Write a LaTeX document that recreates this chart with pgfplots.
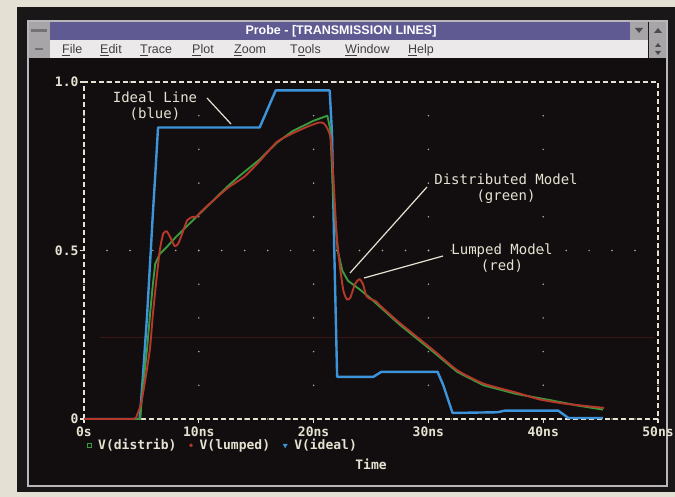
\documentclass[border=0pt]{standalone}
\usepackage{pgfplots}
\pgfplotsset{compat=1.18}
\usepackage{fontspec}
\setmonofont{DejaVu Sans Mono}
\setsansfont{Liberation Sans}
\definecolor{paper}{HTML}{E4E0D4}
\definecolor{frameblk}{HTML}{1A1718}
\definecolor{plotbg}{HTML}{120E0F}
\definecolor{titlebar}{HTML}{5F5A92}
\definecolor{menubg}{HTML}{ECE9EA}
\definecolor{btn}{HTML}{A7A5A7}
\definecolor{cream}{HTML}{E6E2D2}
\definecolor{dotc}{HTML}{B0AC9E}
\definecolor{faintred}{HTML}{3A1616}
\definecolor{ideal}{HTML}{3D94DA}
\definecolor{distrib}{HTML}{3A9A3E}
\definecolor{lumped}{HTML}{B5382A}
\newcommand\tl[1]{\texttt{\bfseries #1}}
\begin{document}
\begin{tikzpicture}
\useasboundingbox (0,0) rectangle (675pt,-497pt);
\begin{scope}[x=1pt,y=-1pt]
\fill[paper] (0,0) rectangle (675,497);
\fill[frameblk] (17,7) rectangle (675,492);
\fill[plotbg] (28,58) rectangle (667,486);
% faint screen line
\draw[faintred, line width=1pt] (100,337) -- (655,337);
% title bar
\fill[titlebar] (50,21) rectangle (630,40);
\fill[btn] (28,21) rectangle (50,40);
\fill[black!55] (31,29) rectangle (47,32);
\fill[btn] (630,21) rectangle (648,40);
\fill[btn] (649,21) rectangle (667,40);
\fill[black!70] (635,28) -- (643,28) -- (639,33) -- cycle;
\fill[black!70] (654,33) -- (662,33) -- (658,28) -- cycle;
\node[text=white, font=\sffamily\bfseries\fontsize{12.5}{14}\selectfont] at (341,31) {Probe - [TRANSMISSION LINES]};
% menu bar
\fill[menubg] (50,40) rectangle (648,58);
\fill[btn] (28,40) rectangle (50,58);
\fill[black!55] (35,48) rectangle (43,50);
\fill[btn] (649,40) rectangle (667,58);
\fill[black!70] (655,47) -- (661,47) -- (658,43) -- cycle;
\fill[black!70] (655,51) -- (661,51) -- (658,55) -- cycle;
\begin{scope}[every node/.style={anchor=base west, inner sep=0pt, text=black!75, font=\sffamily\fontsize{12.5}{14}\selectfont}]
\node at (62,54) {\underline{F}ile};
\node at (100,54) {\underline{E}dit};
\node at (140,54) {\underline{T}race};
\node at (192,54) {\underline{P}lot};
\node at (234,54) {\underline{Z}oom};
\node at (290,54) {T\underline{o}ols};
\node at (345,54) {\underline{W}indow};
\node at (408,54) {\underline{H}elp};
\end{scope}
\draw[btn!80!white, line width=1.2pt] (28,21) rectangle (667,486);
\end{scope}

\begin{axis}[
  at={(84pt,-419pt)}, anchor=south west,
  scale only axis, width=574pt, height=337pt,
  xmin=0, xmax=50, ymin=0, ymax=1,
  axis line style={cream, line width=1.3pt, dash pattern=on 5pt off 3pt},
  xtick={0,10,...,50},
  xticklabels={\tl{0s},\tl{10ns},\tl{20ns},\tl{30ns},\tl{40ns},\tl{50ns}},
  ytick={0,0.5,1},
  yticklabels={\tl{0},\tl{0.5},\tl{1.0}},
  tick style={cream, line width=1.3pt, solid},
  tick align=outside, major tick length=4pt,
  xtick pos=bottom, ytick pos=left,
  ticklabel style={text=cream, font=\fontsize{13}{15}\selectfont},
  yticklabel style={xshift=2pt},
  grid=major,
  x grid style={dotc, line width=1.7pt, line cap=round, dash pattern=on 0pt off 33.7pt},
  y grid style={dotc, line width=1.7pt, line cap=round, dash pattern=on 0pt off 22.96pt},
  xlabel={\tl{Time}},
  xlabel style={at={(axis description cs:0.5,-0.135)}, anchor=center, text=cream, font=\fontsize{13}{15}\selectfont},
  legend style={at={(axis description cs:0,-0.078)}, anchor=west, draw=none, fill=none,
    text=cream, font=\fontsize{13}{15}\selectfont, legend columns=3,
    /tikz/every even column/.append style={column sep=11pt},
    /tikz/every odd column/.append style={column sep=5pt}},
  legend image code/.code={\draw[#1] plot coordinates {(2pt,0pt)};},
]
\addplot[ideal, line width=2.4pt, line join=round, forget plot] coordinates {
(0,0) (4.85,0) (5.1,0.11) (5.5,0.31) (5.75,0.46) (6.0,0.61) (6.2,0.72) (6.45,0.865)
(15.3,0.865) (16.7,0.975) (21.4,0.975) (21.6,0.85) (21.8,0.5) (22.05,0.125)
(25.2,0.125) (25.9,0.14) (30.8,0.14) (31.3,0.10) (32.1,0.018) (36.0,0.02) (36.7,0.025)
(41.3,0.025) (42.2,0.003) (45.2,0.003)};
\addplot[distrib, line width=1.9pt, line join=round, forget plot] coordinates {
(0,0) (4.9,0) (5.05,0.07) (5.5,0.21) (5.75,0.31) (6.0,0.40) (6.2,0.46) (6.6,0.49)
(7.2,0.51) (8.0,0.54) (8.6,0.56) (10.1,0.61) (11.6,0.66) (12.5,0.69) (13.5,0.72)
(15.3,0.77) (16.8,0.82) (18.2,0.855) (20.0,0.885) (21.2,0.90) (21.45,0.86) (21.7,0.67)
(22.1,0.50) (22.5,0.44) (23.0,0.41) (24.0,0.385) (25.0,0.357) (27.5,0.28) (30.4,0.20)
(32.5,0.14) (34.8,0.10) (37.7,0.074) (40.6,0.056) (43.0,0.04) (45.2,0.028)};
\addplot[lumped, line width=1.9pt, line join=round, smooth, tension=0.35, forget plot] coordinates {
(0,0) (4.2,0) (4.6,0.01) (5.0,0.05) (5.4,0.13) (5.75,0.21) (6.0,0.31) (6.3,0.41)
(6.6,0.5) (6.9,0.55) (7.2,0.557) (7.5,0.54) (7.9,0.513) (8.2,0.52) (8.5,0.545)
(9.0,0.59) (9.5,0.60) (9.8,0.60) (10.1,0.612) (11,0.64) (12.5,0.685) (14,0.72)
(15.3,0.765) (16.8,0.822) (18.2,0.848) (19.5,0.868) (20.5,0.88) (20.9,0.877)
(21.2,0.862) (21.5,0.83) (21.75,0.70) (22.0,0.55) (22.3,0.45) (22.6,0.38) (22.9,0.355)
(23.2,0.36) (23.6,0.40) (24.0,0.415) (24.3,0.40) (24.6,0.365) (25.0,0.355) (25.4,0.35)
(26.0,0.33) (27.5,0.285) (30.4,0.205) (32.5,0.145) (34.8,0.105) (37.7,0.078)
(39.7,0.058) (42,0.045) (45.3,0.033)};
\addlegendimage{only marks, mark=square, mark size=2pt, distrib, line width=1pt}
\addlegendentry{\tl{V(distrib)}}
\addlegendimage{only marks, mark=*, mark size=1.6pt, lumped}
\addlegendentry{\tl{V(lumped)}}
\addlegendimage{only marks, mark=triangle*, mark size=2.4pt, ideal, mark options={rotate=180}}
\addlegendentry{\tl{V(ideal)}}
\end{axis}

\begin{scope}[x=1pt,y=-1pt]
\begin{scope}[every node/.style={align=center, text=cream, font=\ttfamily\fontsize{14}{16}\selectfont, inner sep=0pt}]
\node at (155,106) {Ideal Line\\(blue)};
\node at (506,189) {Distributed Model\\(green)};
\node at (502,258) {Lumped Model\\(red)};
\end{scope}
\draw[cream, line width=1.2pt] (207,98) -- (231,124);
\draw[cream, line width=1.2pt] (427,187) -- (350,273);
\draw[cream, line width=1.2pt] (443,256) -- (364,278);
\end{scope}
\end{tikzpicture}
\end{document}
